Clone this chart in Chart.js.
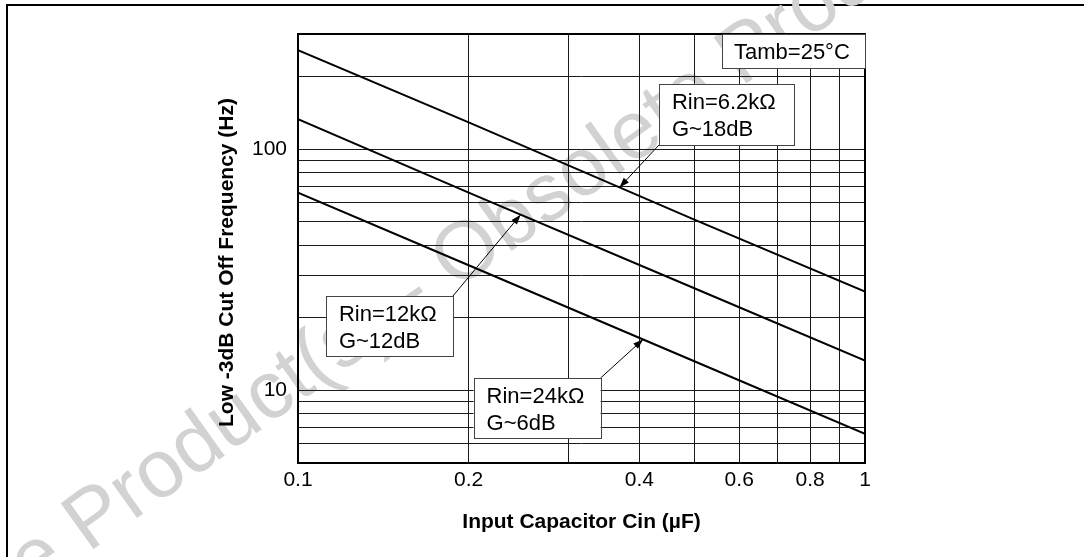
<!DOCTYPE html>
<html>
<head>
<meta charset="utf-8">
<script src="https://cdn.jsdelivr.net/npm/chart.js@4.4.0/dist/chart.umd.min.js"></script>
<style>
  html, body { margin: 0; padding: 0; background: #fff; }
  canvas { display: block; }
</style>
</head>
<body>
<canvas id="cutoffChart" width="1084" height="557"></canvas>
<script>
// Values
const capacitance = [0.1, 0.2, 0.5, 1];
const rin62k = [257, 129, 51, 25.7];
const rin12k = [133, 66, 26.5, 13.3];
const rin24k = [66, 33, 13.2, 6.6];

const xGrid = [0.1, 0.2, 0.3, 0.4, 0.5, 0.6, 0.7, 0.8, 0.9, 1];
const xTickLabels = [0.1, 0.2, 0.4, 0.6, 0.8, 1];
const yGrid = [5, 6, 7, 8, 9, 10, 20, 30, 40, 50, 60, 70, 80, 90, 100, 200, 300];
const yTickLabels = [10, 100];

const seriesValues = [rin62k, rin12k, rin24k];

// Callouts: top-left corner in data units, arrow tip on a curve
const notes = [
  { lines: ['Rin=6.2kΩ', 'G~18dB'], at: [0.433, 186], size: [135, 61], from: 'bl', series: 0, tipX: 0.369 },
  { lines: ['Rin=12kΩ', 'G~12dB'], at: [0.112, 24.6], size: [127, 60], from: 'tr', series: 1, tipX: 0.247 },
  { lines: ['Rin=24kΩ', 'G~6dB'], at: [0.204, 11.25], size: [127, 60], from: 'tr', series: 2, tipX: 0.406 },
];

const FONT = '"Liberation Sans", Arial, Helvetica, sans-serif';

// log-log interpolation along a series
function valueAt(values, x) {
  for (let i = 0; i < capacitance.length - 1; i++) {
    const x0 = capacitance[i], x1 = capacitance[i + 1];
    if (x >= x0 && x <= x1) {
      const t = (Math.log(x) - Math.log(x0)) / (Math.log(x1) - Math.log(x0));
      return Math.exp(Math.log(values[i]) + t * (Math.log(values[i + 1]) - Math.log(values[i])));
    }
  }
  return values[values.length - 1];
}

function drawArrow(c, x0, y0, x1, y1) {
  c.beginPath();
  c.moveTo(x0, y0);
  c.lineTo(x1, y1);
  c.stroke();
  const a = Math.atan2(y1 - y0, x1 - x0);
  const len = 10, half = 3.5;
  c.beginPath();
  c.moveTo(x1, y1);
  c.lineTo(x1 - len * Math.cos(a) + half * Math.sin(a), y1 - len * Math.sin(a) - half * Math.cos(a));
  c.lineTo(x1 - len * Math.cos(a) - half * Math.sin(a), y1 - len * Math.sin(a) + half * Math.cos(a));
  c.closePath();
  c.fill();
}

const decorPlugin = {
  id: 'decor',
  afterLayout(chart) {
    // the y title sits a bit lower than the middle of the axis in the original
    const y = chart.scales.y;
    y.top += 14;
    y.bottom += 14;
  },
  beforeDraw(chart) {
    const c = chart.ctx;
    c.save();
    // page frame (only top and left visible)
    c.strokeStyle = '#000';
    c.lineWidth = 2;
    c.beginPath();
    c.moveTo(7, 557);
    c.lineTo(7, 5);
    c.lineTo(1084, 5);
    c.stroke();

    // watermark
    c.translate(88, 553);
    c.rotate(-35.5 * Math.PI / 180);
    c.font = '82px ' + FONT;
    c.fillStyle = '#d2d2d2';
    c.textBaseline = 'alphabetic';
    const lead = c.measureText('Obsolete ').width;
    c.fillText('Obsolete Product(s) - Obsolete Product(s)', -lead, 0);
    c.restore();
  },
  afterDatasetsDraw(chart) {
    const c = chart.ctx;
    const xs = chart.scales.x, ys = chart.scales.y;
    const area = chart.chartArea;
    c.save();

    // plot frame
    c.strokeStyle = '#000';
    c.lineWidth = 2;
    c.strokeRect(area.left, area.top, area.right - area.left, area.bottom - area.top);

    c.font = '22px ' + FONT;
    c.textBaseline = 'alphabetic';

    // Tamb box in the upper right corner
    const tw = 143, th = 34;
    const tx = xs.getPixelForValue(1) - tw, ty = ys.getPixelForValue(300);
    c.fillStyle = '#fff';
    c.fillRect(tx, ty, tw, th);
    c.strokeStyle = '#444';
    c.lineWidth = 1;
    c.strokeRect(Math.round(tx) + 0.5, Math.round(ty) + 0.5, tw, th);
    c.fillStyle = '#000';
    c.fillText('Tamb=25°C', tx + 12, ty + 25);

    notes.forEach(n => {
      const bx = xs.getPixelForValue(n.at[0]);
      const by = ys.getPixelForValue(n.at[1]);
      const [w, h] = n.size;
      const tipX = xs.getPixelForValue(n.tipX);
      const tipY = ys.getPixelForValue(valueAt(seriesValues[n.series], n.tipX));
      const sx = n.from === 'bl' ? bx : bx + w;
      const sy = n.from === 'bl' ? by + h : by;

      c.strokeStyle = '#000';
      c.fillStyle = '#000';
      c.lineWidth = 1;
      drawArrow(c, sx, sy, tipX, tipY);

      c.fillStyle = '#fff';
      c.fillRect(bx, by, w, h);
      c.strokeStyle = '#444';
      c.strokeRect(Math.round(bx) + 0.5, Math.round(by) + 0.5, w, h);
      c.fillStyle = '#000';
      c.fillText(n.lines[0], bx + 13, by + 25);
      c.fillText(n.lines[1], bx + 13, by + 52);
    });
    c.restore();
  }
};

const makeSet = (values) => ({
  data: capacitance.map((c, i) => ({ x: c, y: values[i] })),
  borderColor: '#000',
  borderWidth: 2,
  pointRadius: 0,
  tension: 0,
  fill: false,
});

new Chart(document.getElementById('cutoffChart'), {
  type: 'line',
  data: {
    datasets: [makeSet(rin62k), makeSet(rin12k), makeSet(rin24k)]
  },
  plugins: [decorPlugin],
  options: {
    responsive: false,
    animation: false,
    layout: { padding: { left: 215, right: 219, top: 34, bottom: 22 } },
    plugins: {
      legend: { display: false },
      tooltip: { enabled: false },
    },
    scales: {
      x: {
        type: 'logarithmic',
        min: 0.1,
        max: 1,
        afterBuildTicks: (scale) => { scale.ticks = xGrid.map(v => ({ value: v })); },
        afterFit: (scale) => { scale.height = 72; },
        grid: { color: '#1a1a1a', lineWidth: 1, drawTicks: false },
        border: { display: false },
        ticks: {
          autoSkip: false,
          maxRotation: 0,
          padding: 5,
          color: '#000',
          font: { family: FONT, size: 21 },
          callback: (value) => xTickLabels.includes(value) ? String(value) : '',
        },
        title: {
          display: true,
          text: 'Input Capacitor Cin (µF)',
          color: '#000',
          font: { family: FONT, size: 21, weight: 'bold' },
          padding: 0,
        },
      },
      y: {
        type: 'logarithmic',
        min: 5,
        max: 300,
        afterBuildTicks: (scale) => { scale.ticks = yGrid.map(v => ({ value: v })); },
        afterFit: (scale) => { scale.width = 83; },
        grid: { color: '#1a1a1a', lineWidth: 1, drawTicks: false },
        border: { display: false },
        ticks: {
          autoSkip: false,
          padding: 11,
          color: '#000',
          font: { family: FONT, size: 21 },
          callback: (value) => yTickLabels.includes(value) ? String(value) : '',
        },
        title: {
          display: true,
          text: 'Low -3dB Cut Off Frequency (Hz)',
          color: '#000',
          font: { family: FONT, size: 21, weight: 'bold' },
          padding: 0,
        },
      },
    },
  },
});
</script>
</body>
</html>
